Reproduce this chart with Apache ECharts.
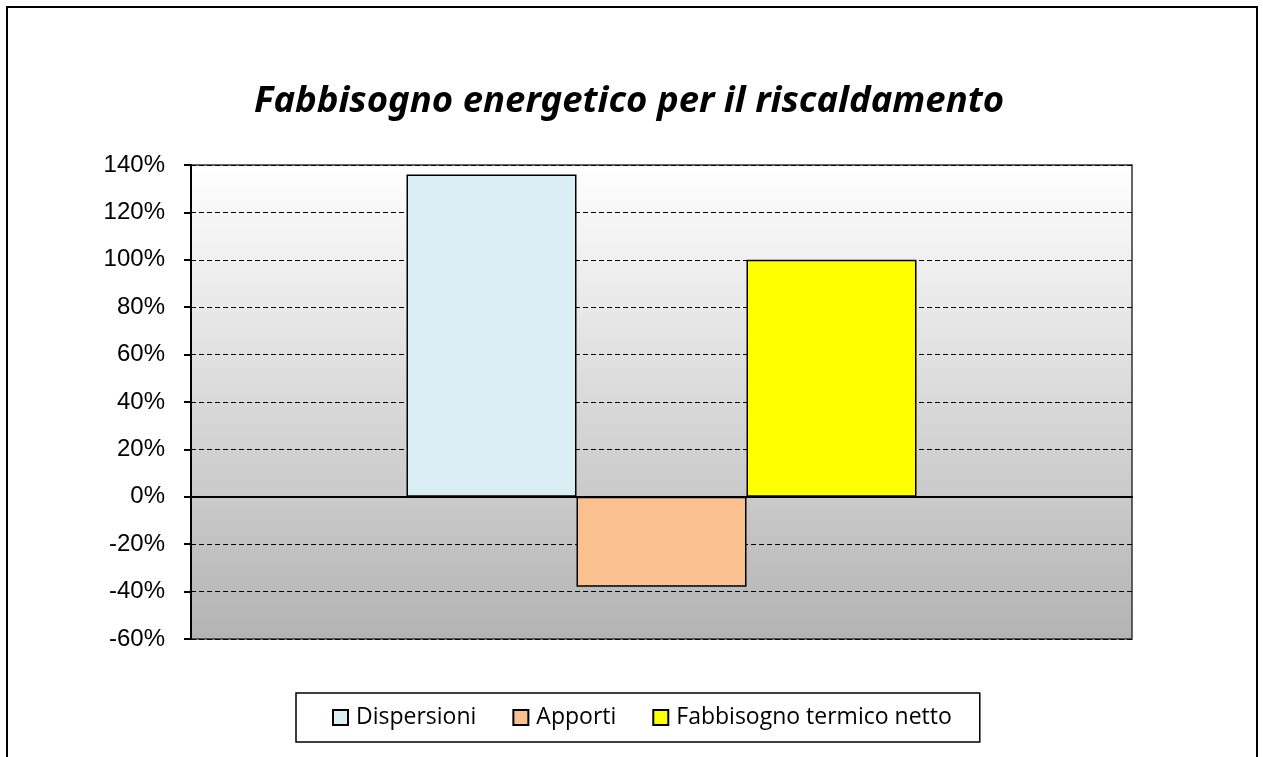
<!DOCTYPE html>
<html>
<head>
<meta charset="utf-8">
<script src="https://cdn.jsdelivr.net/npm/echarts@6/dist/echarts.min.js"></script>
<style>
  html, body { margin: 0; padding: 0; background: #fff; }
  #chart { width: 1263px; height: 757px; }
</style>
</head>
<body>
<div id="chart"></div>
<script>
const categories = ['Bilancio'];
const seriesNames = ['Dispersioni', 'Apporti', 'Fabbisogno termico netto'];
const dispersioni = [136];
const apporti = [-38];
const fabbisogno = [100];
const seriesColors = ['#daeef3', '#fac090', '#ffff00'];

const chart = echarts.init(document.getElementById('chart'));

const barSeries = [dispersioni, apporti, fabbisogno].map((vals, i) => ({
  name: seriesNames[i],
  type: 'bar',
  data: vals,
  barWidth: 170,
  barGap: '0%',
  itemStyle: {
    color: seriesColors[i],
    borderColor: '#000',
    borderWidth: 1.5
  },
  emphasis: { disabled: true }
}));

const option = {
  animation: false,
  backgroundColor: '#fff',
  title: {
    text: 'Fabbisogno energetico per il riscaldamento',
    left: 624,
    textAlign: 'center',
    top: 78,
    textStyle: {
      fontFamily: 'Noto Sans',
      fontStyle: 'italic',
      fontWeight: 'bold',
      fontSize: 36.5,
      color: '#000'
    }
  },
  graphic: [{
    type: 'rect',
    shape: { x: 7, y: 7, width: 1250, height: 800 },
    style: { fill: 'none', stroke: '#000', lineWidth: 2 },
    silent: true
  }],
  legend: {
    data: seriesNames,
    left: 296,
    top: 693,
    orient: 'horizontal',
    borderColor: '#000',
    borderWidth: 1.5,
    padding: [13, 28, 13, 36],
    itemWidth: 15,
    itemHeight: 15,
    itemGap: 36,
    icon: 'rect',
    textStyle: {
      fontFamily: 'Open Sans',
      fontSize: 23,
      color: '#000',
      padding: [0, 0, 0, 3]
    },
    selectedMode: false
  },
  grid: {
    left: 191,
    right: 131,
    top: 165,
    bottom: 118,
    show: true,
    borderColor: '#333',
    borderWidth: 1.5,
    backgroundColor: {
      type: 'linear', x: 0, y: 0, x2: 0, y2: 1,
      colorStops: [
        { offset: 0, color: '#ffffff' },
        { offset: 1, color: '#b3b3b3' }
      ]
    }
  },
  xAxis: {
    type: 'category',
    data: categories,
    axisLine: { onZero: true, lineStyle: { color: '#000', width: 2 } },
    axisTick: { show: false },
    axisLabel: { show: false },
    splitLine: { show: false }
  },
  yAxis: {
    type: 'value',
    min: -60,
    max: 140,
    interval: 20,
    axisLine: { show: true, lineStyle: { color: '#000', width: 2 } },
    axisTick: { show: true, inside: false, length: 7, lineStyle: { color: '#000', width: 2 } },
    axisLabel: {
      formatter: '{value}%',
      fontFamily: 'Liberation Sans',
      fontSize: 24,
      color: '#000',
      margin: 26
    },
    splitLine: {
      show: true,
      lineStyle: { color: '#000', width: 1.2, type: [5, 3] }
    }
  },
  series: barSeries
};

chart.setOption(option);
</script>
</body>
</html>
